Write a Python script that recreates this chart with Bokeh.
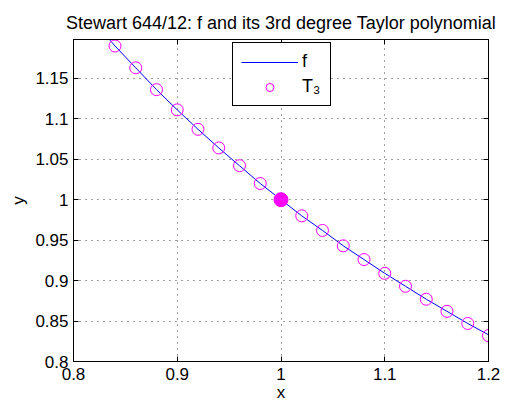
from bokeh.plotting import figure
from bokeh.models import Range1d, FixedTicker, Legend, LegendItem, LinearAxis
from bokeh.embed import file_html
from bokeh.resources import INLINE

# f sampled
f_x = [0.80, 0.82, 0.84, 0.86, 0.88, 0.90, 0.92, 0.94, 0.96, 0.98, 1.00,
       1.02, 1.04, 1.06, 1.08, 1.10, 1.12, 1.14, 1.16, 1.18, 1.20]
f_y = [1.250, 1.220, 1.190, 1.163, 1.136, 1.111, 1.087, 1.064, 1.042, 1.020, 1.000,
       0.980, 0.962, 0.943, 0.926, 0.909, 0.893, 0.877, 0.862, 0.847, 0.833]

# T3 markers
t_x = [0.84, 0.86, 0.88, 0.90, 0.92, 0.94, 0.96, 0.98, 1.00,
       1.02, 1.04, 1.06, 1.08, 1.10, 1.12, 1.14, 1.16, 1.18, 1.20]
t_y = [1.190, 1.163, 1.136, 1.111, 1.087, 1.064, 1.042, 1.020, 1.000,
       0.980, 0.962, 0.943, 0.926, 0.909, 0.893, 0.877, 0.862, 0.847, 0.832]

center_x = [1.0]
center_y = [1.0]

x_ticks = [0.8, 0.9, 1.0, 1.1, 1.2]
x_labels = {0.8: "0.8", 0.9: "0.9", 1.0: "1", 1.1: "1.1", 1.2: "1.2"}
y_ticks = [0.8, 0.85, 0.9, 0.95, 1.0, 1.05, 1.1, 1.15]
y_labels = {0.8: "0.8", 0.85: "0.85", 0.9: "0.9", 0.95: "0.95", 1.0: "1",
            1.05: "1.05", 1.1: "1.1", 1.15: "1.15"}

FONT = "Liberation Sans"
FS = "17px"

p = figure(width=508, height=409, output_backend="svg", toolbar_location=None,
           x_range=Range1d(0.8, 1.2), y_range=Range1d(0.8, 1.198),
           min_border_left=73, min_border_right=20, min_border_top=39,
           min_border_bottom=48)

p.title.text = "Stewart 644/12: f and its 3rd degree Taylor polynomial"
p.title.text_font = FONT
p.title.text_font_size = "18px"
p.title.text_font_style = "normal"
p.title.align = "center"
p.title.text_color = "#000000"
p.title.standoff = 14

p.outline_line_color = "black"
p.outline_line_width = 1
p.outline_line_alpha = 1

for ax, ticks, labels in [(p.xaxis[0], x_ticks, x_labels), (p.yaxis[0], y_ticks, y_labels)]:
    ax.ticker = FixedTicker(ticks=ticks)
    ax.major_label_overrides = labels
    ax.minor_tick_line_color = None
    ax.major_tick_in = 5
    ax.major_tick_out = 0
    ax.axis_line_color = "black"
    ax.major_tick_line_color = "black"
    ax.major_label_text_font = FONT
    ax.major_label_text_font_size = FS
    ax.major_label_text_color = "black"
    ax.axis_label_text_font = FONT
    ax.axis_label_text_font_size = FS
    ax.axis_label_text_font_style = "normal"
    ax.axis_label_text_color = "black"

p.xaxis[0].axis_label = "x"
p.yaxis[0].axis_label = "y"
p.xaxis[0].axis_label_standoff = 0
p.yaxis[0].axis_label_standoff = 4
p.xaxis[0].major_label_standoff = 6
p.yaxis[0].major_label_standoff = 5

# top and right tick-only axes (no labels)
top = LinearAxis(ticker=FixedTicker(ticks=x_ticks),
                 major_label_overrides={t: "" for t in x_ticks},
                 major_label_text_color=None,
                 major_tick_in=5, major_tick_out=0, minor_tick_line_color=None,
                 axis_line_color="black", major_tick_line_color="black",
                 major_label_standoff=0)
right = LinearAxis(ticker=FixedTicker(ticks=y_ticks),
                   major_label_overrides={t: "" for t in y_ticks},
                   major_label_text_color=None,
                   major_tick_in=5, major_tick_out=0, minor_tick_line_color=None,
                   axis_line_color="black", major_tick_line_color="black",
                   major_label_standoff=0)
p.add_layout(top, "above")
p.add_layout(right, "right")

p.xgrid.ticker = FixedTicker(ticks=[0.9, 1.0, 1.1])
p.ygrid.ticker = FixedTicker(ticks=[0.85, 0.9, 0.95, 1.0, 1.05, 1.1, 1.15])
for g in (p.xgrid[0], p.ygrid[0]):
    g.grid_line_color = "#000000"
    g.grid_line_alpha = 0.75
    g.grid_line_dash = "1 5"
    g.grid_line_width = 1

line_r = p.line(f_x, f_y, line_color="#0000ff", line_width=1)
circ_r = p.scatter(t_x, t_y, marker="circle", size=12, fill_color=None,
                   line_color="#ff00ff", line_width=1)
p.scatter(center_x, center_y, marker="circle", size=14, fill_color="#ff00ff",
          line_color="#ff00ff")

legend = Legend(items=[LegendItem(label="f", renderers=[line_r]),
                       LegendItem(label="T₃", renderers=[circ_r])],
                location=(159, 255))
legend.label_text_font = FONT
legend.label_text_font_size = "18px"
legend.label_text_color = "black"
legend.border_line_color = "black"
legend.border_line_width = 1
legend.border_line_alpha = 1
legend.background_fill_color = "white"
legend.background_fill_alpha = 1
legend.padding = 8
legend.spacing = 4
legend.margin = 0
legend.glyph_width = 57
legend.glyph_height = 20
legend.label_height = 20
legend.label_standoff = 4
p.add_layout(legend, "center")

open("out.html", "w").write(file_html(p, INLINE))
